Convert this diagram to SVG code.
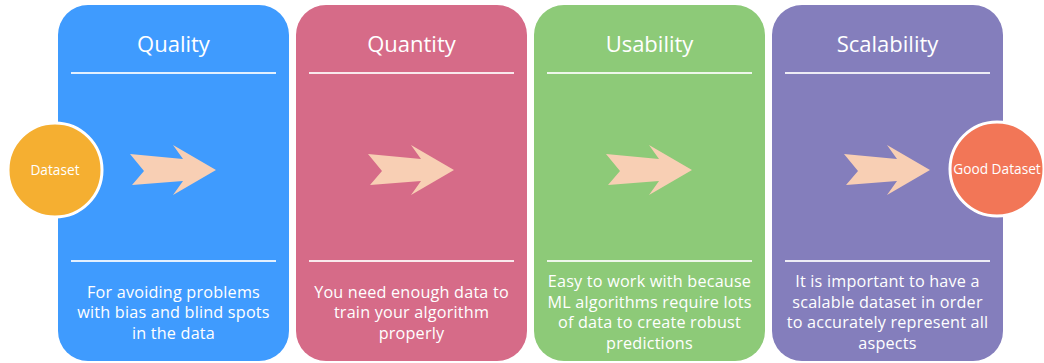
<svg xmlns="http://www.w3.org/2000/svg" width="1044" height="363" viewBox="0 0 1044 363">
<defs>
<style>
.card{stroke:none}
.rule{stroke:#ffffff;stroke-opacity:0.85;stroke-width:2}
.title{font-family:"Open Sans","Noto Sans",sans-serif;font-size:22px;fill:#ffffff;text-anchor:middle}
.body{font-family:"Open Sans","Noto Sans",sans-serif;font-size:16.2px;fill:#ffffff;text-anchor:middle;letter-spacing:0.2px}
.arrow{fill:#F8CFB4}
.circ{stroke:#ffffff;stroke-width:3}
.clabel{font-family:"Open Sans","Noto Sans",sans-serif;font-size:13.7px;fill:#ffffff;text-anchor:middle}
</style>
<path id="arr" d="M130,154 L144,171 L132,185 L183,181 L173,195 L216,170 L173,145 L183,159 Z"/>
</defs>
<rect width="1044" height="363" fill="#ffffff"/>

<g id="quality">
<rect class="card" x="58" y="5" width="231" height="356" rx="30" fill="#3F9BFE"/>
<text class="title" x="173.5" y="52">Quality</text>
<line class="rule" x1="71" y1="73" x2="276" y2="73"/>
<use href="#arr" class="arrow"/>
<line class="rule" x1="71" y1="261" x2="276" y2="261"/>
<text class="body" x="173.5" y="297.5">For avoiding problems</text>
<text class="body" x="173.5" y="318">with bias and blind spots</text>
<text class="body" x="173.5" y="338.5">in the data</text>
</g>

<g id="quantity">
<rect class="card" x="296" y="5" width="231" height="356" rx="30" fill="#D66B88"/>
<text class="title" x="411.5" y="52">Quantity</text>
<line class="rule" x1="309" y1="73" x2="514" y2="73"/>
<use href="#arr" class="arrow" transform="translate(238,0)"/>
<line class="rule" x1="309" y1="261" x2="514" y2="261"/>
<text class="body" x="411.5" y="297.5">You need enough data to</text>
<text class="body" x="411.5" y="318">train your algorithm</text>
<text class="body" x="411.5" y="338.5">properly</text>
</g>

<g id="usability">
<rect class="card" x="534" y="5" width="231" height="356" rx="30" fill="#8DCA78"/>
<text class="title" x="649.5" y="52">Usability</text>
<line class="rule" x1="547" y1="73" x2="752" y2="73"/>
<use href="#arr" class="arrow" transform="translate(476,0)"/>
<line class="rule" x1="547" y1="261" x2="752" y2="261"/>
<text class="body" x="649.5" y="287">Easy to work with because</text>
<text class="body" x="649.5" y="307.5">ML algorithms require lots</text>
<text class="body" x="649.5" y="328">of data to create robust</text>
<text class="body" x="649.5" y="348.5">predictions</text>
</g>

<g id="scalability">
<rect class="card" x="772" y="5" width="231" height="356" rx="30" fill="#847EBC"/>
<text class="title" x="887.5" y="52">Scalability</text>
<line class="rule" x1="785" y1="73" x2="990" y2="73"/>
<use href="#arr" class="arrow" transform="translate(714,0)"/>
<line class="rule" x1="785" y1="261" x2="990" y2="261"/>
<text class="body" x="887.5" y="287">It is important to have a</text>
<text class="body" x="887.5" y="307.5">scalable dataset in order</text>
<text class="body" x="887.5" y="328">to accurately represent all</text>
<text class="body" x="887.5" y="348.5">aspects</text>
</g>

<g id="connectors"></g>

<g id="dataset">
<circle class="circ" cx="55" cy="170" r="47" fill="#F5AF31"/>
<text class="clabel" x="55" y="175">Dataset</text>
</g>

<g id="good-dataset">
<circle class="circ" cx="997" cy="169" r="47" fill="#F27657"/>
<text class="clabel" x="997" y="174">Good Dataset</text>
</g>
</svg>
